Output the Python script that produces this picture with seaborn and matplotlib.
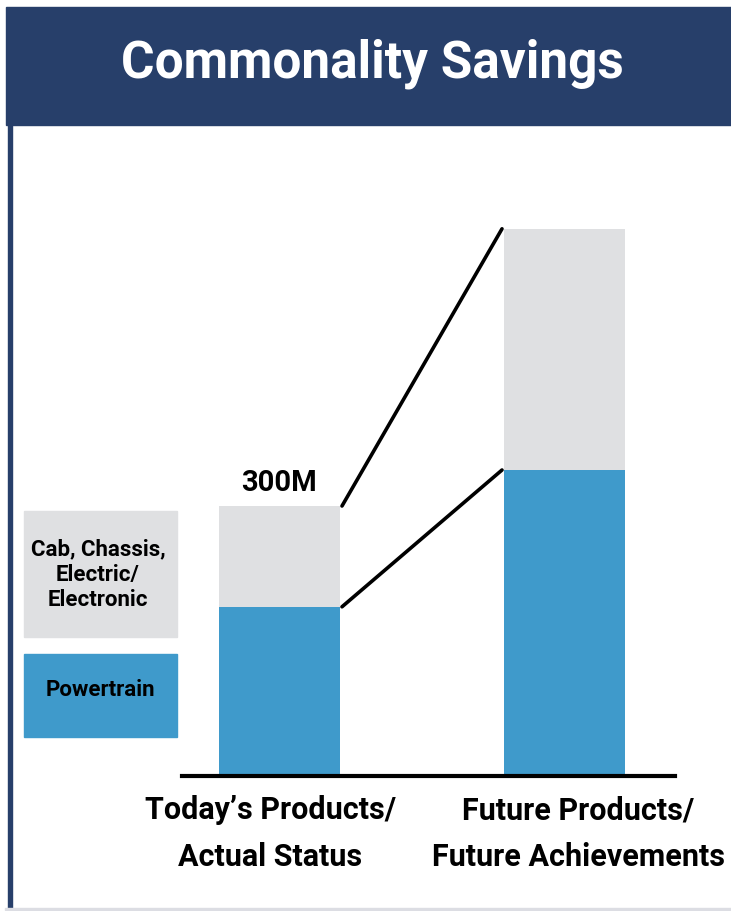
import matplotlib
matplotlib.use("Agg")
import matplotlib.pyplot as plt
import matplotlib.transforms as mtransforms
import seaborn as sns
import pandas as pd
from matplotlib.patches import Rectangle

# values in millions
categories = ["Today\u2019s Products/\nActual Status", "Future Products/\nFuture Achievements"]
powertrain = [188, 340]
cab_chassis = [112, 268]
total_label = "300M"

NAVY = "#273f6a"
BLUE = "#3f9acb"
GREY = "#dfe0e2"

sns.set_theme(style="white")
plt.rcParams["font.family"] = ["Roboto", "DejaVu Sans"]
plt.rcParams["text.color"] = "black"

df = pd.DataFrame({
    "category": categories,
    "powertrain": powertrain,
    "total": [p + c for p, c in zip(powertrain, cab_chassis)],
})

W, H = 731, 911
fig = plt.figure(figsize=(W / 100, H / 100), dpi=100)

def fx(px):
    return px / W

def fy(py):
    return 1 - py / H

# frame: banner, left rule, bottom rule
fig.patches.append(Rectangle((fx(6), fy(125)), 1 - fx(6), fy(7) - fy(125),
                             transform=fig.transFigure, color=NAVY, zorder=0))
fig.patches.append(Rectangle((fx(8), fy(908)), fx(4), fy(125) - fy(908),
                             transform=fig.transFigure, color=NAVY, zorder=0))
fig.patches.append(Rectangle((fx(5), fy(910)), 1 - fx(5), 2 / H,
                             transform=fig.transFigure, color="#dcdde3", zorder=0))
fig.text(fx(372), fy(64), "Commonality Savings", color="white", fontsize=37,
         fontweight="bold", ha="center", va="center")

# axes: baseline at y=776px, spans x 182..675
ax = fig.add_axes([fx(182), fy(776), fx(675) - fx(182), fy(140) - fy(776)])
bw = 121 / 285
sns.barplot(data=df, x="category", y="total", color=GREY, width=bw,
            saturation=1, linewidth=0, ax=ax, zorder=2)
sns.barplot(data=df, x="category", y="powertrain", color=BLUE, width=bw,
            saturation=1, linewidth=0, ax=ax, zorder=3)

ax.set_xlim((182 - 279.5) / 285, (675 - 279.5) / 285)
ax.set_ylim(0, 636 / 0.9)
ax.set_xlabel("")
ax.set_ylabel("")
ax.set_yticks([])
for s in ["left", "right", "top"]:
    ax.spines[s].set_visible(False)
ax.spines["bottom"].set_color("black")
ax.spines["bottom"].set_linewidth(3)
ax.spines["bottom"].set_zorder(5)
ax.tick_params(axis="x", length=0, pad=14, labelcolor="black")
ax.set_xticks(range(len(categories)))
labels = ax.set_xticklabels(categories, fontsize=22, fontweight="bold", linespacing=1.68)
for lab, dx in zip(labels, [-9, 14]):
    lab.set_transform(lab.get_transform() +
                      mtransforms.ScaledTranslation(dx / 100, 0, fig.dpi_scale_trans))

# connector lines between bar tops
x0 = 0 + bw / 2 + 0.007
x1 = 1 - bw / 2 - 0.007
tot = df["total"].tolist()
ax.plot([x0, x1], [tot[0], tot[1]], color="black", lw=2.6, zorder=4, clip_on=False)
ax.plot([x0, x1], [powertrain[0], powertrain[1]], color="black", lw=2.6, zorder=4,
        clip_on=False)

ax.text(0, tot[0] + 10, total_label, ha="center", va="bottom", fontsize=21,
        fontweight="bold")

# legend boxes
fig.patches.append(Rectangle((fx(24), fy(637)), fx(153), fy(511) - fy(637),
                             transform=fig.transFigure, color=GREY, zorder=1))
fig.patches.append(Rectangle((fx(24), fy(737)), fx(153), fy(654) - fy(737),
                             transform=fig.transFigure, color=BLUE, zorder=1))
fig.text(fx(98), fy(575), "Cab, Chassis,\nElectric/\nElectronic", ha="center",
         va="center", fontsize=16, fontweight="bold", linespacing=1.2)
fig.text(fx(100), fy(690), "Powertrain", ha="center", va="center", fontsize=16,
         fontweight="bold")

fig.savefig("out.png", dpi=100)
